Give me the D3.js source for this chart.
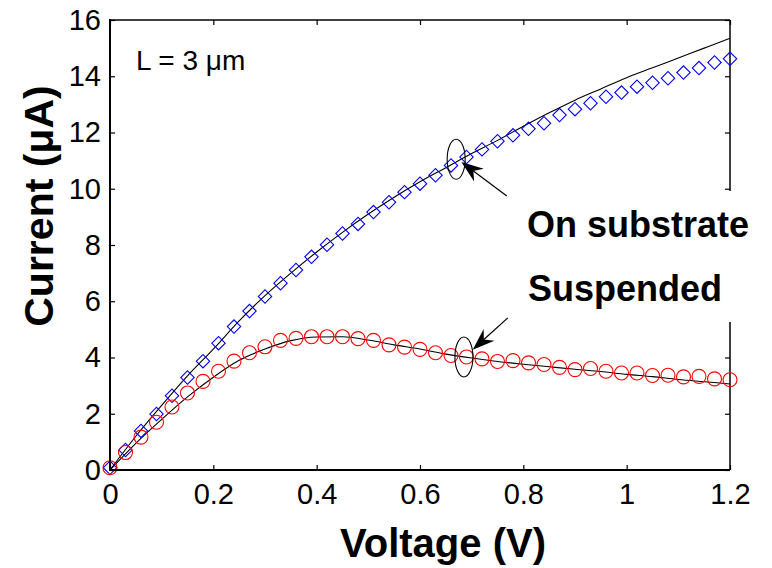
<!DOCTYPE html>
<html>
<head>
<meta charset="utf-8">
<script src="https://cdn.jsdelivr.net/npm/d3@7/dist/d3.min.js"></script>
<style>
body{margin:0;background:#fff;}
text{font-family:Arial,"Liberation Sans",sans-serif;}
</style>
</head>
<body>
<div class="main"></div>
<script>
// measured points (markers), step 0.03 V
var markerV = [0,0.03,0.06,0.09,0.12,0.15,0.18,0.21,0.24,0.27,0.30,0.33,0.36,0.39,0.42,0.45,0.48,0.51,0.54,0.57,
               0.60,0.63,0.66,0.69,0.72,0.75,0.78,0.81,0.84,0.87,0.90,0.93,0.96,0.99,1.02,1.05,1.08,1.11,1.14,1.17,1.20];
var substrateMeas = [0.08,0.71,1.39,1.99,2.64,3.29,3.87,4.51,5.10,5.65,6.17,6.64,7.11,7.58,8.01,8.41,8.75,9.17,9.52,9.88,
                     10.18,10.48,10.83,11.13,11.40,11.69,11.90,12.13,12.33,12.62,12.83,13.04,13.27,13.42,13.63,13.77,13.93,14.13,14.29,14.49,14.62];
var suspendedMeas = [0.08,0.62,1.17,1.70,2.24,2.74,3.15,3.51,3.87,4.17,4.38,4.61,4.68,4.74,4.74,4.74,4.67,4.61,4.45,4.37,
                     4.29,4.17,4.07,4.02,3.95,3.86,3.89,3.81,3.75,3.65,3.57,3.61,3.51,3.45,3.45,3.36,3.37,3.31,3.33,3.24,3.21];

// simulated curves (black lines), step 0.05 V
var lineV = [0,0.05,0.10,0.15,0.20,0.25,0.30,0.35,0.40,0.45,0.50,0.55,0.60,0.65,0.70,0.75,0.80,0.85,0.90,0.95,1.00,1.05,1.10,1.15,1.20];
var substrateSim = [0,1.2,2.3,3.35,4.3,5.3,6.2,7.0,7.75,8.45,9.1,9.7,10.25,10.75,11.25,11.72,12.22,12.7,13.15,13.55,13.95,14.3,14.65,15.0,15.35];
var suspendedSim = [0,0.95,1.8,2.6,3.3,3.9,4.3,4.6,4.73,4.74,4.62,4.45,4.3,4.12,3.98,3.86,3.76,3.67,3.58,3.5,3.4,3.32,3.22,3.14,3.06];

var xTicks = [0,0.2,0.4,0.6,0.8,1,1.2];
var yTicks = [0,2,4,6,8,10,12,14,16];

// annotations (data units)
var ellipses = [{v:0.67,i:11.05},{v:0.685,i:4.02}];
var arrows = [{v0:0.768,i0:9.74,v1:0.680,i1:10.95},{v0:0.770,i0:5.41,v1:0.702,i1:4.28}];
var labels = [{text:'On substrate',x:527,y:237},{text:'Suspended',x:528,y:301}];

var W = 772, H = 568;
var svg = d3.select('.main').append('svg')
            .attr('width', W)
            .attr('height', H);

var x = d3.scaleLinear().domain([0,1.2]).range([110,730]);
var y = d3.scaleLinear().domain([0,16]).range([470,20]);

// axes with inward ticks
var xAxis = d3.axisBottom(x).tickValues(xTicks).tickSize(-5).tickPadding(13).tickFormat(d3.format('~g'));
var yAxis = d3.axisLeft(y).tickValues(yTicks).tickSize(-5).tickPadding(9);
var xTop = d3.axisTop(x).tickValues(xTicks).tickSize(-5).tickFormat('');
var yRight = d3.axisRight(y).tickValues(yTicks).tickSize(-5).tickFormat('');

function styleAxis(g){
  g.select('.domain').remove();
  g.selectAll('.tick line').attr('stroke','#000').attr('stroke-width',1.2);
  g.selectAll('.tick text').attr('fill','#000').style('font-size','29px').style('font-family','Arial,"Liberation Sans",sans-serif');
}

svg.append('g').attr('transform','translate(0,470)').call(xAxis).call(styleAxis);
svg.append('g').attr('transform','translate(110,0)').call(yAxis).call(styleAxis);
svg.append('g').attr('transform','translate(0,20)').call(xTop).call(styleAxis);
svg.append('g').attr('transform','translate(730,0)').call(yRight).call(styleAxis);

// frame
svg.append('line').attr('x1',x(0)).attr('x2',x(1.2)).attr('y1',y(16)).attr('y2',y(16)).attr('stroke','#000').attr('stroke-width',1.5);
svg.append('line').attr('x1',x(1.2)).attr('x2',x(1.2)).attr('y1',y(16)).attr('y2',y(0)).attr('stroke','#000').attr('stroke-width',1.5);

// curves
var line = d3.line().x(function(d){return x(d[0]);}).y(function(d){return y(d[1]);}).curve(d3.curveMonotoneX);
[substrateSim, suspendedSim].forEach(function(s){
  svg.append('path')
     .datum(lineV.map(function(v,k){return [v,s[k]];}))
     .attr('d', line)
     .attr('fill','none')
     .attr('stroke','#000')
     .attr('stroke-width',1.1);
});

// diamonds
svg.selectAll('.dia')
   .data(markerV.map(function(v,k){return [v,substrateMeas[k]];}))
   .enter().append('path')
   .attr('class','dia')
   .attr('d', d3.symbol().type(d3.symbolSquare).size(90))
   .attr('transform', function(d){return 'translate('+x(d[0])+','+y(d[1])+') rotate(45)';})
   .attr('fill','none')
   .attr('stroke','#0000ff')
   .attr('stroke-width',1.1);

// circles
svg.selectAll('.circ')
   .data(markerV.map(function(v,k){return [v,suspendedMeas[k]];}))
   .enter().append('circle')
   .attr('class','circ')
   .attr('cx', function(d){return x(d[0]);})
   .attr('cy', function(d){return y(d[1]);})
   .attr('r', 7)
   .attr('fill','none')
   .attr('stroke','#ff0000')
   .attr('stroke-width',1.1);

// ellipses
svg.selectAll('.ell')
   .data(ellipses)
   .enter().append('ellipse')
   .attr('cx', function(d){return x(d.v);})
   .attr('cy', function(d){return y(d.i);})
   .attr('rx', 9)
   .attr('ry', 20)
   .attr('fill','none')
   .attr('stroke','#000')
   .attr('stroke-width',1.1);

// arrows
arrows.forEach(function(a){
  var x0 = x(a.v0), y0 = y(a.i0), x1 = x(a.v1), y1 = y(a.i1);
  var dx = x1-x0, dy = y1-y0, len = Math.sqrt(dx*dx+dy*dy);
  var ux = dx/len, uy = dy/len, px = -uy, py = ux;
  var hl = 22, hw = 8, nb = 15;
  svg.append('line').attr('x1',x0).attr('y1',y0).attr('x2',x1-ux*nb).attr('y2',y1-uy*nb)
     .attr('stroke','#000').attr('stroke-width',1.2);
  var pts = [[x1,y1],[x1-ux*hl+px*hw, y1-uy*hl+py*hw],[x1-ux*nb, y1-uy*nb],[x1-ux*hl-px*hw, y1-uy*hl-py*hw]];
  svg.append('path').attr('d','M'+pts.map(function(p){return p.join(',');}).join('L')+'Z').attr('fill','#000');
});

// text labels with white boxes
labels.forEach(function(l){
  var t = svg.append('text').attr('x',l.x).attr('y',l.y)
             .style('font-size','36px').style('font-weight','bold').attr('fill','#000').text(l.text);
  var b = t.node().getBBox();
  svg.insert('rect', function(){return t.node();})
     .attr('x', b.x-10).attr('y', b.y-13).attr('width', b.width+20).attr('height', b.height+26)
     .attr('fill','#fff');
});

// L = 3 um
svg.append('text').attr('x',136).attr('y',70).style('font-size','28px').attr('fill','#000').text('L = 3 \u03bcm');

// axis titles
svg.append('text').attr('x',443).attr('y',557).attr('text-anchor','middle')
   .style('font-size','40px').style('font-weight','bold').text('Voltage (V)');
svg.append('text').attr('transform','translate(53,206) rotate(-90)').attr('text-anchor','middle')
   .style('font-size','41px').style('font-weight','bold').text('Current (\u03bcA)');

// left/bottom axis lines on top
svg.append('line').attr('x1',x(0)).attr('x2',x(0)).attr('y1',y(16)-1).attr('y2',y(0)+1).attr('stroke','#000').attr('stroke-width',2);
svg.append('line').attr('x1',x(0)-1).attr('x2',x(1.2)).attr('y1',y(0)).attr('y2',y(0)).attr('stroke','#000').attr('stroke-width',2);
</script>
</body>
</html>
